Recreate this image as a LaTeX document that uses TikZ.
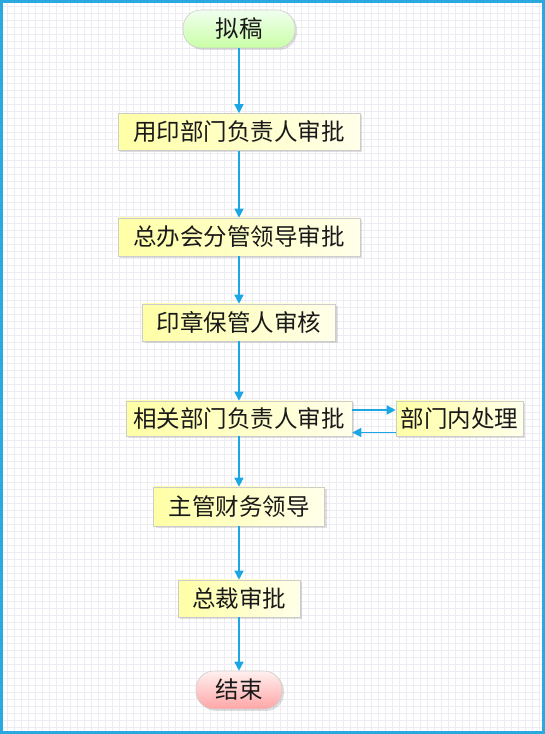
\documentclass[tikz,border=0pt]{standalone}
\usepackage{fontspec}
\newfontfamily\cjk{Noto Sans CJK SC}
\usetikzlibrary{shadows,arrows.meta}
\definecolor{frameblue}{HTML}{2AA9E0}
\definecolor{arrowblue}{HTML}{1BA6E6}
\definecolor{gridc}{HTML}{ECECF2}
\tikzset{
  box/.style={draw=black!20, line width=0.6pt, left color=yellow!35!white, right color=yellow!8!white,
    minimum height=37pt, inner sep=0pt, font=\cjk\fontsize{23.5}{23.5}\selectfont, text=black!90,
    drop shadow={opacity=0.25, shadow xshift=2pt, shadow yshift=-2pt}},
  pillgreen/.style={box, rounded corners=18pt, top color=green!6!white, bottom color=green!60!yellow!35!white, minimum height=38pt},
  pillred/.style={box, rounded corners=18pt, top color=red!6!white, bottom color=red!35!white, minimum height=38pt},
  flow/.style={draw=arrowblue, line width=1.5pt, -{Triangle[length=9pt,width=9pt]}}
}
\begin{document}
\begin{tikzpicture}[x=1pt,y=1pt]
\useasboundingbox (0,0) rectangle (545,734);
\draw[gridc, line width=0.4pt, step=7pt] (3,3) grid (542,731);
\draw[frameblue, line width=2.5pt] (1.5,1.5) rectangle (543.5,732.5);
\node[pillgreen, minimum width=112pt] (n0) at (239,705) {拟稿};
\node[box, minimum width=242pt] (n1) at (239,602) {用印部门负责人审批};
\node[box, minimum width=242pt, minimum height=38pt] (n2) at (239,497) {总办会分管领导审批};
\node[box, minimum width=193pt] (n3) at (239,411.5) {印章保管人审核};
\node[box, minimum width=226pt, minimum height=35pt] (n4) at (239,315.5) {相关部门负责人审批};
\node[box, minimum width=127pt, minimum height=35pt] (n5) at (459.5,315.5) {部门内处理};
\node[box, minimum width=171pt, minimum height=39pt] (n6) at (239,227.5) {主管财务领导};
\node[box, minimum width=122pt] (n7) at (239,135.5) {总裁审批};
\node[pillred, minimum width=86pt] (n8) at (239,44) {结束};
\draw[flow] (n0) -- (n1);
\draw[flow] (n1) -- (n2);
\draw[flow] (n2) -- (n3);
\draw[flow] (n3) -- (n4);
\draw[flow] ([yshift=8.5pt]n4.east) -- ([yshift=8.5pt]n5.west);
\draw[flow] ([yshift=-14pt]n5.west) -- ([yshift=-14pt]n4.east);
\draw[flow] (n4) -- (n6);
\draw[flow] (n6) -- (n7);
\draw[flow] (n7) -- (n8);
\end{tikzpicture}
\end{document}
